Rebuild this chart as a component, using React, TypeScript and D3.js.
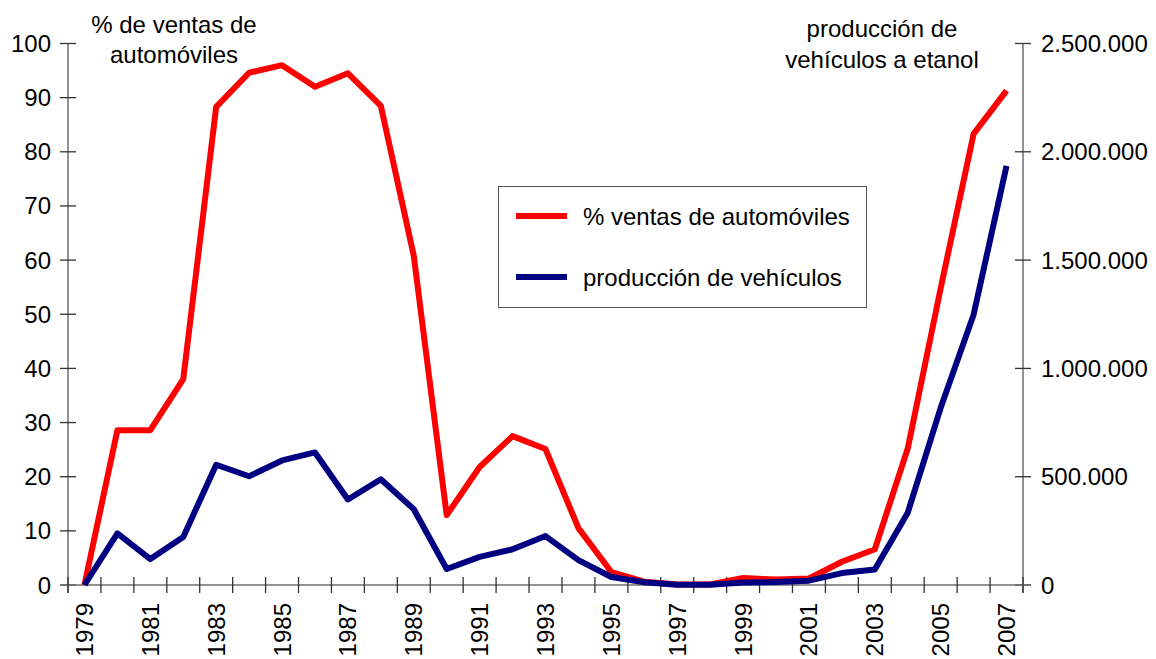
import { useMemo } from 'react';
import * as d3 from 'd3';

const YEARS = [
  1979, 1980, 1981, 1982, 1983, 1984, 1985, 1986, 1987, 1988, 1989, 1990, 1991, 1992, 1993,
  1994, 1995, 1996, 1997, 1998, 1999, 2000, 2001, 2002, 2003, 2004, 2005, 2006, 2007,
];

// % de ventas de automóviles nuevos (eje izquierdo)
const PCT_VENTAS = [
  0, 28.6, 28.6, 38, 88.3, 94.6, 96.0, 92.0, 94.5, 88.5, 60.8, 12.9, 21.8, 27.5, 25.1,
  10.5, 2.4, 0.6, 0.1, 0.1, 1.3, 1.0, 1.2, 4.3, 6.6, 25.2, 54.8, 83.3, 91.3,
];

// producción de vehículos a etanol (eje derecho)
const PRODUCCION = [
  0, 238000, 120000, 222000, 555000, 502000, 575000, 612000, 395000, 488000, 350000, 74000,
  130000, 165000, 226000, 115000, 37000, 13000, 1000, 1000, 12000, 14000, 20000, 55000,
  72000, 334000, 818000, 1248000, 1935000,
];

const LEFT_TICKS = [0, 10, 20, 30, 40, 50, 60, 70, 80, 90, 100];
const RIGHT_TICKS = [0, 500000, 1000000, 1500000, 2000000, 2500000];
const LABEL_YEARS = [1979, 1981, 1983, 1985, 1987, 1989, 1991, 1993, 1995, 1997, 1999, 2001, 2003, 2005, 2007];

const W = 1156;
const H = 659;
const PLOT = { left: 68, right: 1023, top: 43.5, bottom: 585 };
const FONT = 'Liberation Sans, Arial, sans-serif';
const FS = 24;
const RED = '#ff0000';
const NAVY = '#000080';

const esLocale = d3.formatLocale({ decimal: ',', thousands: '.', grouping: [3], currency: ['', ''] });
const fmtMiles = esLocale.format(',d');

export default function App() {
  const chart = useMemo(() => {
    const x = d3.scaleBand<number>().domain(YEARS).range([PLOT.left, PLOT.right]).padding(0);
    const yL = d3.scaleLinear().domain([0, 100]).range([PLOT.bottom, PLOT.top]);
    const yR = d3.scaleLinear().domain([0, 2500000]).range([PLOT.bottom, PLOT.top]);
    const cx = (yr: number) => (x(yr) ?? 0) + x.bandwidth() / 2;

    const redLine = d3.line<number>()
      .x((_, i) => cx(YEARS[i]))
      .y((d) => yL(d))(PCT_VENTAS) ?? '';
    const blueLine = d3.line<number>()
      .x((_, i) => cx(YEARS[i]))
      .y((d) => yR(d))(PRODUCCION) ?? '';

    // tick marks sit on the category boundaries
    const bounds = [...YEARS.map((yr) => x(yr) ?? 0), PLOT.right];
    return { x, yL, yR, cx, redLine, blueLine, bounds };
  }, []);

  return (
    <div style={{ position: 'absolute', left: 0, top: 0 }}>
      <svg width={W} height={H} style={{ display: 'block', background: '#fff' }} fontFamily={FONT}>
        {/* axis titles */}
        <text x={174} y={33} textAnchor="middle" fontSize={FS} fill="#000">% de ventas de</text>
        <text x={174} y={63} textAnchor="middle" fontSize={FS} fill="#000">automóviles</text>
        <text x={882} y={37} textAnchor="middle" fontSize={FS} fill="#000">producción de</text>
        <text x={882} y={68} textAnchor="middle" fontSize={FS} fill="#000">vehículos a etanol</text>

        {/* left axis */}
        <line x1={PLOT.left} y1={PLOT.top} x2={PLOT.left} y2={PLOT.bottom + 8} stroke="#6e6e6e" strokeWidth={1.5} />
        {LEFT_TICKS.map((v) => (
          <g key={v}>
            <line x1={PLOT.left - 8} x2={PLOT.left + 8} y1={chart.yL(v)} y2={chart.yL(v)} stroke="#333" strokeWidth={1.3} />
            <text x={51} y={chart.yL(v)} textAnchor="end" dominantBaseline="central" fontSize={FS} fill="#000">
              {v}
            </text>
          </g>
        ))}

        {/* right axis */}
        <line x1={PLOT.right} y1={PLOT.top} x2={PLOT.right} y2={PLOT.bottom + 8} stroke="#6e6e6e" strokeWidth={1.5} />
        {RIGHT_TICKS.map((v) => (
          <g key={v}>
            <line x1={PLOT.right - 8} x2={PLOT.right + 8} y1={chart.yR(v)} y2={chart.yR(v)} stroke="#333" strokeWidth={1.3} />
            <text x={1041} y={chart.yR(v)} textAnchor="start" dominantBaseline="central" fontSize={FS} fill="#000">
              {fmtMiles(v)}
            </text>
          </g>
        ))}

        {/* bottom axis */}
        <line x1={PLOT.left - 8} x2={PLOT.right + 8} y1={PLOT.bottom} y2={PLOT.bottom} stroke="#6e6e6e" strokeWidth={1.5} />
        {chart.bounds.map((bx, i) => (
          <line key={i} x1={bx} x2={bx} y1={PLOT.bottom - 8} y2={PLOT.bottom + 8} stroke="#333" strokeWidth={1.3} />
        ))}
        {LABEL_YEARS.map((yr) => (
          <text
            key={yr}
            transform={`translate(${chart.cx(yr)},603) rotate(-90)`}
            textAnchor="end"
            dominantBaseline="central"
            fontSize={FS}
            fill="#000"
          >
            {yr}
          </text>
        ))}

        {/* series */}
        <path d={chart.redLine} fill="none" stroke={RED} strokeWidth={6} strokeLinejoin="round" />
        <path d={chart.blueLine} fill="none" stroke={NAVY} strokeWidth={6} strokeLinejoin="round" />

        {/* legend */}
        <rect x={498.5} y={186.5} width={368} height={121} fill="#fff" stroke="#555" strokeWidth={1} />
        <line x1={516} x2={567} y1={216} y2={216} stroke={RED} strokeWidth={6} />
        <text x={583} y={225} fontSize={FS} fill="#000">% ventas de automóviles</text>
        <line x1={516} x2={567} y1={277} y2={277} stroke={NAVY} strokeWidth={6} />
        <text x={583} y={286} fontSize={FS} fill="#000">producción de vehículos</text>
      </svg>
    </div>
  );
}
